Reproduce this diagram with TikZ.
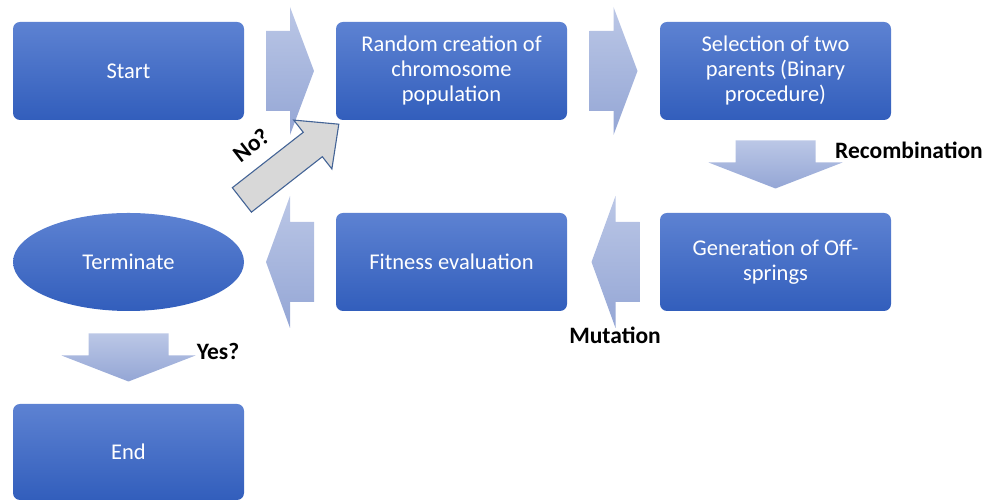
\documentclass[tikz,border=0pt]{standalone}
\usepackage{fontspec}
\setmainfont{Carlito}
\usetikzlibrary{calc,shapes.geometric}

\definecolor{boxtop}{RGB}{93,130,210}
\definecolor{boxbot}{RGB}{50,94,188}
\definecolor{arrtop}{RGB}{187,199,230}
\definecolor{arrbot}{RGB}{148,166,213}
\definecolor{noline}{RGB}{68,100,150}
\definecolor{nofill}{RGB}{216,216,216}

% block arrows, drawn around a centre point
\newcommand\flowright[1]{%
  \begin{scope}[shift={#1}]
    \shade[flow] (-24,-40) -- (0,-40) -- (0,-64) -- (24,0) -- (0,64) -- (0,40) -- (-24,40) -- cycle;
  \end{scope}}
\newcommand\flowleft[1]{%
  \begin{scope}[shift={#1}]
    \shade[flow] (24,-40) -- (0,-40) -- (0,-66) -- (-24,0) -- (0,66) -- (0,40) -- (24,40) -- cycle;
  \end{scope}}
\newcommand\flowdown[1]{%
  \begin{scope}[shift={#1}]
    \shade[flow] (-40,24) -- (-40,2) -- (-67,2) -- (0,-24) -- (67,2) -- (40,2) -- (40,24) -- cycle;
  \end{scope}}

\begin{document}
\begin{tikzpicture}[x=1pt,y=1pt,
  stepbox/.style={rectangle, rounded corners=7pt, minimum width=231pt,
    minimum height=98pt, top color=boxtop, bottom color=boxbot, draw=none,
    text=white, font=\fontsize{22.5}{25}\selectfont, align=center, inner sep=0pt},
  termbox/.style={stepbox, ellipse, rounded corners=0pt},
  flow/.style={top color=arrtop, bottom color=arrbot, draw=none},
  lbl/.style={font=\bfseries\fontsize{23.5}{26}\selectfont, text=black, inner sep=0pt}]
\useasboundingbox (0,0) rectangle (996,502);

% process steps
\node[stepbox] (start) at (128.5,431) {Start};
\node[stepbox] (rand)  at (451.5,431) {Random creation of\\chromosome\\population};
\node[stepbox] (sel)   at (775.5,431) {Selection of two\\parents (Binary\\procedure)};
\node[termbox] (term)  at (128.5,240) {Terminate};
\node[stepbox] (fit)   at (451.5,240) {Fitness evaluation};
\node[stepbox] (gen)   at (775.5,240) {Generation of Off-\\springs};
\node[stepbox, minimum height=96pt] (finish) at (128.5,50) {End};

% flow between the steps
\flowright{($(start.east)!0.5!(rand.west)$)}
\flowright{($(rand.east)!0.5!(sel.west)$)}
\flowdown{($(sel.south)!0.5!(gen.north)+(0,2)$)}
\flowleft{($(fit.east)!0.5!(gen.west)+(2,0)$)}
\flowleft{($(term.east)!0.5!(fit.west)$)}
\flowdown{($(term.south)!0.5!(finish.north)$)}

% loop back to a new population
\begin{scope}[shift={($(rand.south west)+(3,-4)$)}, rotate=38]
  \filldraw[fill=nofill, draw=noline, line width=1.1pt, line join=miter]
    (-123,-15.5) -- (-33,-15.5) -- (-33,-31) -- (0,0) -- (-33,31) -- (-33,15.5) -- (-123,15.5) -- cycle;
\end{scope}

% labels
\node[lbl, rotate=38] (no) at (251,357) {No?};
\node[lbl, anchor=west] (rec) at (835,352) {Recombination};
\node[lbl] (mut) at (615,167) {Mutation};
\node[lbl] (yes) at (218,151) {Yes?};
\end{tikzpicture}
\end{document}
